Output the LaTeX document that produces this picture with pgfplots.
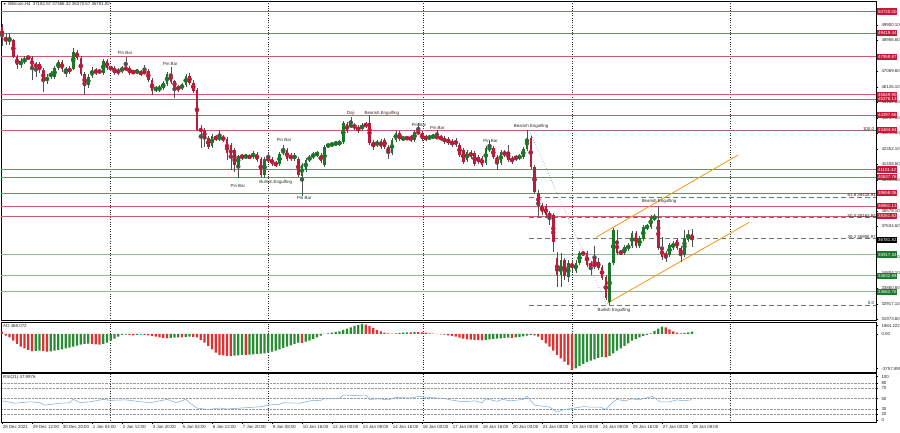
\documentclass[border=0pt]{standalone}
\usepackage{fontspec}
\setmainfont{Liberation Sans}
\usepackage{pgfplots}
\usepackage{pgfplotstable}
\pgfplotsset{compat=1.18}
\definecolor{cred}{RGB}{185,28,58}
\definecolor{cgreen}{RGB}{24,120,40}
\definecolor{wickc}{RGB}{80,80,80}
\definecolor{lred}{RGB}{206,92,110}
\definecolor{lgreen}{RGB}{140,186,140}
\definecolor{bred}{RGB}{200,24,56}
\definecolor{bgreen}{RGB}{30,120,45}
\definecolor{aored}{RGB}{222,50,50}
\definecolor{aogreen}{RGB}{40,140,50}
\definecolor{rsic}{RGB}{125,175,215}
\definecolor{orng}{RGB}{240,160,40}
\definecolor{txt}{RGB}{40,40,40}

\pgfplotstableread{
i o h l c
0 49796 49960 48621 49090
1 49169 49351 48681 48925
2 48925 49412 48681 49047
3 48986 49047 47890 47951
4 47951 48072 47220 47463
5 47524 47890 47281 47646
6 47646 48012 47524 47829
7 47920 48072 47768 47890
8 47890 48012 46550 47342
9 47524 47646 46733 47342
10 47524 47646 46976 47159
11 47159 47281 45819 46489
12 46489 46915 46306 46733
13 46733 47098 46611 46976
14 46733 47403 46611 47281
15 47281 47768 47159 47646
16 47646 47768 47037 47220
17 47037 47342 46733 47220
18 47281 47403 46915 47037
19 47220 48499 47159 48255
20 48255 48377 47768 47890
21 47890 48012 46794 46915
22 46915 47037 45637 46185
23 46246 46915 46063 46733
24 46794 47342 46672 47159
25 47159 47281 46855 46976
26 47098 47220 46915 47037
27 46976 47829 46855 47707
28 47707 47829 47159 47281
29 47281 47403 47159 47244
30 47281 47403 46855 46976
31 47159 47281 46855 46976
32 47098 47403 46976 47281
33 47281 47951 47098 47220
34 47281 47403 46855 46976
35 47037 47159 46915 47001
36 47037 47220 46915 47098
37 47037 47159 46794 46915
38 47037 47463 46915 47001
39 47098 47220 46428 46550
40 46550 46672 45637 45880
41 45941 46185 45819 46063
42 45941 46246 45819 46124
43 46063 46489 45941 46367
44 46306 47037 46185 46915
45 46915 47342 46306 46428
46 46489 46550 45454 46124
47 46124 46246 45819 46002
48 46063 46367 45941 46246
49 46246 46915 46124 46794
50 46794 46976 46246 46367
51 46367 46550 45758 45880
52 45941 46063 43444 43505
53 43627 43810 42409 43383
54 43505 43627 42470 43018
55 43018 43140 42348 42470
56 42531 43261 42409 43140
57 43079 43201 42835 42957
58 42957 43505 42835 43079
59 43079 43201 42774 42896
60 42957 43079 41678 42104
61 42592 42713 41069 41800
62 42287 42409 40947 41374
63 41374 41983 40582 41922
64 41922 42043 41678 41861
65 41861 42043 41739 41922
66 41892 41983 41739 41861
67 41861 42226 41739 42104
68 42043 42165 41556 41678
69 41739 41861 40643 40765
70 40765 41861 40582 41739
71 41739 42165 41556 41678
72 41739 41861 41313 41434
73 41495 41617 41252 41374
74 41434 42165 41313 42043
75 42104 42592 41983 42287
76 42287 42409 41617 41739
77 41983 42104 41617 41739
78 41739 42104 41617 41983
79 41739 41861 40643 40765
80 40704 41495 39486 41374
81 41069 41800 40947 41678
82 41678 41983 41556 41861
83 41861 42165 41739 42043
84 41983 42226 41861 42104
85 41983 42104 41495 41617
86 41374 42592 41252 42470
87 42531 42713 42409 42592
88 42592 42774 42470 42652
89 42652 42835 42531 42713
90 42652 42896 42531 42774
91 42774 44053 42652 43931
92 43870 43992 43322 43444
93 43749 44297 43627 43810
94 43810 43931 43505 43627
95 43688 43810 43322 43444
96 43566 43931 43444 43810
97 43870 43992 43627 43749
98 43931 44419 42592 42713
99 42774 42896 42287 42470
100 42592 42896 42470 42774
101 42835 42957 42348 42470
102 42896 43018 42348 42470
103 42470 42592 41739 42104
104 42104 43018 41983 42896
105 42896 43444 42774 43322
106 43322 43444 42835 42957
107 42957 43140 42835 43018
108 43018 43140 42896 42981
109 43079 43201 42774 42896
110 42896 43505 42774 43383
111 43383 43931 43201 43322
112 43322 43444 42835 42957
113 43079 43201 42835 42957
114 43018 43201 42896 43079
115 43079 43261 42957 43140
116 43079 43505 42957 43042
117 43079 43201 42835 42957
118 43018 43140 42652 42774
119 42957 43079 42592 42713
120 42835 42957 42470 42592
121 42896 43018 42470 42592
122 42592 42713 41861 41983
123 42287 42409 41434 41556
124 41678 42287 41556 42165
125 42165 42287 41739 41861
126 42104 42226 41313 41434
127 41861 41983 41434 41556
128 41800 41922 41252 41374
129 41495 42531 41374 42409
130 42287 42896 42165 42470
131 42409 42531 41739 41861
132 41861 41983 41069 41495
133 41495 42287 41374 42165
134 42165 42287 41861 41983
135 42165 42592 41556 41678
136 41800 41922 41434 41556
137 41861 41983 41617 41739
138 41800 42043 41678 41922
139 41861 42470 41739 42348
140 42348 43484.84 42226 43018
141 43018 43140 41130 41252
142 41252 41374 39607 39729
143 39668 39851 38207 38877
144 38938 39059 38329 38511
145 38877 38998 38146 38329
146 38450 38572 37720 38207
147 38329 38450 36075 36684
148 35710 36075 33944 34675
149 34675 36014 33944 35588
150 35588 35710 34370 34614
151 34553 35588 34248 35405
152 35405 35588 34857 35101
153 34918 35588 34796 35405
154 35405 36136 35284 36014
155 36014 36136 35832 35953
156 36014 36136 35162 35284
157 35405 35527 34675 35162
158 35710 36441 35040 35162
159 35466 35710 34979 35101
160 35162 35284 34370 34492
161 34553 34675 33152 33274
162 33030 35466 32841.04 35405
163 35405 37537 35284 37415
164 36745 37415 35893 36014
165 36075 36197 35893 36014
166 36014 36502 35893 36380
167 36258 36623 36136 36502
168 36441 37354 36319 37232
169 37232 37354 36319 36441
170 36441 37050 36319 36928
171 36867 37720 36745 37598
172 37537 37780 37415 37659
173 37598 38329 37476 38207
174 38085 38389 37963 38207
175 38024 38877 36197 36319
176 36319 36989 35588 35771
177 36014 36136 35466 35771
178 35893 36623 35771 36502
179 36319 36745 36197 36623
180 36806 36928 36197 36319
181 36319 36441 35466 35893
182 35893 37415 35771 36928
183 36806 37415 36684 37171
184 37182.57 37466.32 36370.57 36781.82
}\candles

\pgfplotstableread{
i v g
0 440 0
1 -314 0
2 -628 0
3 -1256 0
4 -1884 0
5 -2386 0
6 -2700 0
7 -3014 0
8 -3266 0
9 -3203 1
10 -3140 1
11 -3203 0
12 -3328 0
13 -3266 1
14 -3140 1
15 -3014 1
16 -2889 1
17 -2700 1
18 -2575 1
19 -2386 1
20 -2198 1
21 -2010 1
22 -1884 1
23 -1821 1
24 -1884 0
25 -1947 0
26 -2010 0
27 -1884 1
28 -1633 1
29 -1256 1
30 -879 1
31 -502 1
32 -188 1
33 -126 1
34 -188 0
35 -251 0
36 -188 1
37 -126 1
38 -188 0
39 -251 0
40 -377 0
41 -502 0
42 -628 0
43 -754 0
44 -816 0
45 -754 1
46 -691 1
47 -628 1
48 -659 0
49 -565 1
50 -502 1
51 -534 0
52 -628 0
53 -1130 0
54 -1633 0
55 -2261 0
56 -2889 0
57 -3517 0
58 -3956 0
59 -4019 0
60 -4145 0
61 -4176 0
62 -4082 1
63 -4019 1
64 -3956 1
65 -3988 0
66 -3894 1
67 -3831 1
68 -3768 1
69 -3705 1
70 -3642 1
71 -3517 1
72 -3328 1
73 -3140 1
74 -2889 1
75 -2638 1
76 -2386 1
77 -2135 1
78 -1884 1
79 -1633 1
80 -1664 0
81 -1444 1
82 -1256 1
83 -942 1
84 -628 1
85 -314 1
86 20 1
87 126 1
88 251 1
89 377 1
90 502 1
91 754 1
92 1005 1
93 1256 1
94 1507 1
95 1696 1
96 1884 1
97 1758 0
98 1507 0
99 1130 0
100 754 0
101 502 0
102 251 0
103 126 0
104 63 0
105 126 1
106 188 1
107 251 1
108 314 1
109 283 0
110 377 1
111 345 0
112 314 0
113 251 0
114 126 0
115 63 0
116 -10 0
117 -63 0
118 -126 0
119 -251 0
120 -377 0
121 -502 0
122 -691 0
123 -879 0
124 -1005 0
125 -1068 0
126 -1130 0
127 -1162 0
128 -1193 0
129 -1130 1
130 -1005 1
131 -942 1
132 -879 1
133 -816 1
134 -754 1
135 -691 1
136 -722 0
137 -628 1
138 -565 1
139 -440 1
140 -314 1
141 -188 1
142 -251 0
143 -502 0
144 -1130 0
145 -1758 0
146 -2386 0
147 -3140 0
148 -3956 0
149 -4584 0
150 -5212 0
151 -5840 0
152 -6782 0
153 -6468 1
154 -6029 1
155 -5652 1
156 -5275 1
157 -5024 1
158 -4773 1
159 -4522 1
160 -4333 1
161 -4396 0
162 -4145 1
163 -3642 1
164 -3140 1
165 -2700 1
166 -2261 1
167 -1758 1
168 -1256 1
169 -942 1
170 -628 1
171 -377 1
172 -188 1
173 126 1
174 565 1
175 1005 1
176 1382 1
177 1256 0
178 879 0
179 502 0
180 251 0
181 126 0
182 188 1
183 314 1
184 468.072 1
}\ao

\pgfplotstableread{
i r
0 45.6
3.5 41
7.5 43.8
10 42
11.5 37.3
15.5 41
18 42
19 48.4
21 42
23.5 43.8
27 48.4
29 46.6
33 47.5
37 43.8
39.5 42
44 48.4
46.5 42
49 48.4
50 42
52 31.7
55 29
58 31.7
60 29.9
63.5 31.7
67.5 33.6
69.5 34.5
70.5 37.3
74 39.1
75 42
79.5 41
82 45.6
85 46.6
86 50.3
90 50.3
91 56.8
94 55.8
97 56.8
98 48.4
100.5 49.4
103 47.5
105 52.1
109 51.2
111 54
114 52.1
118 50.3
119.5 47.5
123 43.8
126 45.6
128 42
129 49.4
132 44.7
133.5 48.4
135.5 45.6
139 48.4
140 54.9
142 37.3
146 33.6
147 29
148 24.3
150 29
152 30.8
155 34.5
157 33.6
159.5 33.6
161 29
163 43.8
164 48.4
166 45.6
168 49.4
170 47.5
171 50.3
173.5 54
175.5 43.8
178 43.8
180 47.5
182 45.6
184 48.0
}\rsi

\newcommand{\fs}{\fontsize{4.4}{5}\selectfont}

\begin{document}
\begin{tikzpicture}[font=\fs]
\useasboundingbox (0pt,0pt) rectangle (900pt,433pt);
\pgfplotsset{
  mt/.style={scale only axis, width=875pt, xmin=-0.27, xmax=233.07,
    axis line style={line width=0.5pt, black},
    tick style={black, line width=0.4pt},
    yticklabel pos=right, ytick pos=right, tick align=outside,
    major tick length=2pt,
    ticklabel style={font=\fs, text=txt},
    xtick=\empty,
    extra x ticks={28.9,71.1,112.3,152.1,194.3},
    extra x tick labels={},
    extra x tick style={grid=major, major tick length=0pt,
      major grid style={black!85, dotted, line width=0.45pt}},
    clip mode=individual},
}
% ---------------- main price panel
\begin{axis}[mt, at={(1pt,112.5pt)}, anchor=south west, height=319.5pt,
  ymin=31904, ymax=51361,
  ytick={31973.60,32917.10,33860.60,34804.10,35747.60,37634.60,38578.10,40465.10,41408.60,42352.10,43295.60,44239.10,45182.60,46126.10,47069.60,48956.60,49900.10},
  yticklabels={31973.60,32917.10,33860.60,34804.10,35747.60,37634.60,38578.10,40465.10,41408.60,42352.10,43295.60,44239.10,45182.60,46126.10,47069.60,48956.60,49900.10}]
\pgfplotsinvokeforeach{50720.00,49419.44,47959.87,45649.90,45376.13,44397.66,43484.84,41101.42,40637.76,39658.06,38881.13,38261.82}{
  \addplot[lred, line width=0.7pt, forget plot] coordinates {(-0.27,#1) (233.07,#1)};
}
\pgfplotsinvokeforeach{35917.34,34632.68,33662.76}{
  \addplot[lgreen, line width=0.7pt, forget plot] coordinates {(-0.27,#1) (233.07,#1)};
}
\pgfplotsinvokeforeach{43484.84,39418.91,38162.94,36906.97,32841.04}{
  \addplot[black!55, dash pattern=on 5pt off 3pt, line width=0.6pt, forget plot] coordinates {(140.6,#1) (233.07,#1)};
}
\addplot[lred, dotted, line width=0.6pt] coordinates {(140.6,43484.84) (161.3,32841.04)};
\addplot[orng, line width=0.9pt] coordinates {(158.4,36970) (196.3,41983)};
\addplot[orng, line width=0.9pt] coordinates {(161.4,32951) (199.3,37884)};
% wicks
\addplot[wickc, only marks, mark=none, forget plot,
  error bars/.cd, y dir=both, y explicit, error mark=none,
  error bar style={line width=0.45pt, wickc}]
  table[x=i, y expr={(\thisrow{h}+\thisrow{l})/2}, y error expr={(\thisrow{h}-\thisrow{l})/2}] {\candles};
% bodies up
\addplot[cgreen, only marks, mark=none, forget plot,
  restrict expr to domain={\thisrow{c}-\thisrow{o}}{0:1000000},
  error bars/.cd, y dir=both, y explicit, error mark=none,
  error bar style={line width=2.5pt, cgreen}]
  table[x=i, y expr={(\thisrow{o}+\thisrow{c})/2}, y error expr={max(abs(\thisrow{c}-\thisrow{o})/2,25)}] {\candles};
% bodies down
\addplot[cred, only marks, mark=none, forget plot,
  restrict expr to domain={\thisrow{c}-\thisrow{o}}{-1000000:-0.001},
  error bars/.cd, y dir=both, y explicit, error mark=none,
  error bar style={line width=2.5pt, cred}]
  table[x=i, y expr={(\thisrow{o}+\thisrow{c})/2}, y error expr={max(abs(\thisrow{c}-\thisrow{o})/2,25)}] {\candles};
% pattern labels
\begin{scope}[every node/.style={text=txt, font=\fs, inner sep=0pt}]
\node at (axis cs:32.8,48194) {Pin Bar};
\node at (axis cs:44.9,47524) {Pin Bar};
\node at (axis cs:75.2,42896) {Pin Bar};
\node at (axis cs:62.9,40113) {Pin Bar};
\node at (axis cs:73,40296) {Bullish Engulfing};
\node at (axis cs:80.6,39364) {Pin Bar};
\node at (axis cs:93,44522) {Doji};
\node at (axis cs:101.3,44522) {Bearish Engulfing};
\node at (axis cs:111.2,43810) {Pin Bar};
\node at (axis cs:116.1,43609) {Pin Bar};
\node at (axis cs:130.3,42853) {Pin Bar};
\node at (axis cs:141.1,43749) {Bearish Engulfing};
\node at (axis cs:175.2,39138) {Bearish Engulfing};
\node at (axis cs:163.2,32543) {Bullish Engulfing};
\node[anchor=south east] at (axis cs:232.6,43484.84) {100.0};
\node[anchor=south east] at (axis cs:233.07,39418.91) {61.8 39418.91};
\node[anchor=south east] at (axis cs:233.07,38162.94) {50.0 38162.94};
\node[anchor=south east] at (axis cs:233.07,36906.97) {38.2 36906.97};
\node[anchor=south east] at (axis cs:232.6,32841.04) {0.0};
\end{scope}
% price boxes
\begin{scope}[every node/.style={anchor=west, xshift=1pt, text=white, font=\fs, inner xsep=0.9pt, inner ysep=1.5pt, text height=3.2pt, text depth=0pt}]
\pgfplotsinvokeforeach{50720.00,49419.44,47959.87,45649.90,45376.13,44397.66,43484.84,41101.42,40637.76,39658.06,38881.13,38261.82}{
  \node[fill=bred] at (axis cs:233.07,#1) {#1};
}
\pgfplotsinvokeforeach{35917.34,34632.68,33662.76}{
  \node[fill=bgreen] at (axis cs:233.07,#1) {#1};
}
\node[fill=black] at (axis cs:233.07,36781.82) {36781.82};
\end{scope}
\end{axis}
% ---------------- AO panel
\begin{axis}[mt, at={(1pt,61pt)}, anchor=south west, height=50pt,
  ymin=-7159, ymax=2261,
  ytick={-6537,0,1564}, yticklabels={-3757.895,0.00,1884.222}]
\addplot[ybar, bar width=2.1pt, bar shift=0pt, fill=aogreen, draw=none,
  restrict expr to domain={\thisrow{g}}{0.5:1.5}] table[x=i, y=v] {\ao};
\addplot[ybar, bar width=2.1pt, bar shift=0pt, fill=aored, draw=none,
  restrict expr to domain={\thisrow{g}}{-0.5:0.5}] table[x=i, y=v] {\ao};
\end{axis}
% ---------------- RSI panel
\begin{axis}[mt, at={(1pt,10.5pt)}, anchor=south west, height=49pt,
  ymin=3.9, ymax=98.3,
  ytick={20,30,50,70,80}, yticklabels={20,30,50,70,80},
  ymajorgrids, major grid style={gray!80, densely dotted, line width=0.4pt},
  extra y ticks={8.7,92.4}, extra y tick labels={0,100},
  extra y tick style={ymajorgrids=false},
  xtick={0,8,16,24,32,40,48,56,64,72,80,88,96,104,112,120,128,136,144,152,160,168,176,184},
  xticklabels={28 Dec 2021,29 Dec 12:00,30 Dec 20:00,1 Jan 04:00,2 Jan 12:00,3 Jan 20:00,5 Jan 04:00,6 Jan 12:00,7 Jan 20:00,9 Jan 08:00,10 Jan 16:00,12 Jan 00:00,13 Jan 08:00,14 Jan 16:00,16 Jan 00:00,17 Jan 08:00,18 Jan 16:00,20 Jan 00:00,21 Jan 08:00,23 Jan 00:00,24 Jan 08:00,25 Jan 16:00,27 Jan 00:00,28 Jan 08:00},
  xtick pos=left,
  xticklabel style={anchor=north west, xshift=-0.3pt, inner sep=1pt}]
\addplot[rsic, line width=0.55pt, mark=none] table[x=i, y=r] {\rsi};
\end{axis}
% header texts
\node[anchor=west, inner sep=0, text=txt] at (3pt,428.5pt) {\scalebox{0.8}{▼}\ \#Bitcoin,H4\ \ 37182.57 37466.32 36370.57 36781.82};
\node[anchor=west, inner sep=0, text=txt] at (3pt,107.5pt) {AO 468.072};
\node[anchor=west, inner sep=0, text=txt] at (3pt,55.5pt) {RSI(21) 47.9976};
\end{tikzpicture}
\end{document}
